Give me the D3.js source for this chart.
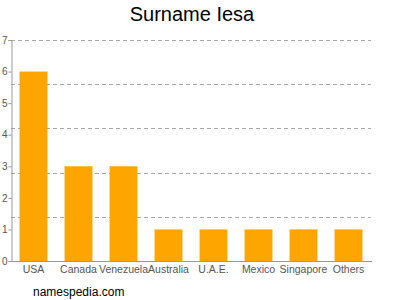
<!DOCTYPE html>
<html>
<head>
<meta charset="utf-8">
<script src="https://cdn.jsdelivr.net/npm/d3@7"></script>
<style>
  body { margin: 0; background: #fff; }
  svg { display: block; font-family: "Liberation Sans", Arial, sans-serif; }
</style>
</head>
<body>
<svg width="400" height="300"></svg>
<script>
const countries = ["USA", "Canada", "Venezuela", "Australia", "U.A.E.", "Mexico", "Singapore", "Others"];
const counts = [6, 3, 3, 1, 1, 1, 1, 1];
const yTicks = [0, 1, 2, 3, 4, 5, 6, 7];
const gridLevels = [1.4, 2.8, 4.2, 5.6, 7];

const svg = d3.select("svg");
const plotLeft = 11, plotRight = 371, plotTop = 40, plotBottom = 261;

const x = d3.scaleBand().domain(countries).range([plotLeft, plotRight]).paddingInner(0.38).paddingOuter(0.19);
const y = d3.scaleLinear().domain([0, 7]).range([plotBottom, plotTop]);

svg.append("text")
  .attr("x", 192).attr("y", 21)
  .attr("text-anchor", "middle")
  .attr("font-size", 20)
  .attr("fill", "#000")
  .text("Surname Iesa");

// dashed grid
svg.append("g")
  .selectAll("line")
  .data(gridLevels)
  .join("line")
  .attr("x1", plotLeft).attr("x2", plotRight)
  .attr("y1", d => Math.round(y(d)) + 0.5).attr("y2", d => Math.round(y(d)) + 0.5)
  .attr("stroke", "#aaa")
  .attr("stroke-dasharray", "4,3");

svg.append("g")
  .selectAll("rect")
  .data(countries)
  .join("rect")
  .attr("x", d => x(d))
  .attr("width", x.bandwidth())
  .attr("y", (d, i) => y(counts[i]))
  .attr("height", (d, i) => plotBottom - y(counts[i]))
  .attr("fill", "#ffa500");

// y axis
const yAxis = svg.append("g")
  .attr("transform", `translate(${plotLeft + 0.5},0)`)
  .call(d3.axisLeft(y).tickValues(yTicks).tickSize(3).tickPadding(1).tickFormat(d3.format("d")));
yAxis.select(".domain").attr("stroke", "#999");
yAxis.selectAll(".tick line").attr("stroke", "#999");
yAxis.selectAll("text").attr("fill", "#555").attr("font-size", 10).attr("font-family", "Liberation Sans, Arial, sans-serif");

// x axis
const xAxis = svg.append("g")
  .attr("transform", `translate(0,${plotBottom + 0.5})`)
  .call(d3.axisBottom(x).tickSize(0).tickPadding(4));
xAxis.select(".domain").attr("stroke", "#999").attr("d", `M${plotLeft},0H${plotRight + 1}`);
xAxis.selectAll("text").attr("fill", "#555").attr("font-size", 10.5).attr("font-family", "Liberation Sans, Arial, sans-serif");

svg.append("text")
  .attr("x", 33).attr("y", 296)
  .attr("font-size", 12)
  .attr("fill", "#000")
  .text("namespedia.com");
</script>
</body>
</html>
